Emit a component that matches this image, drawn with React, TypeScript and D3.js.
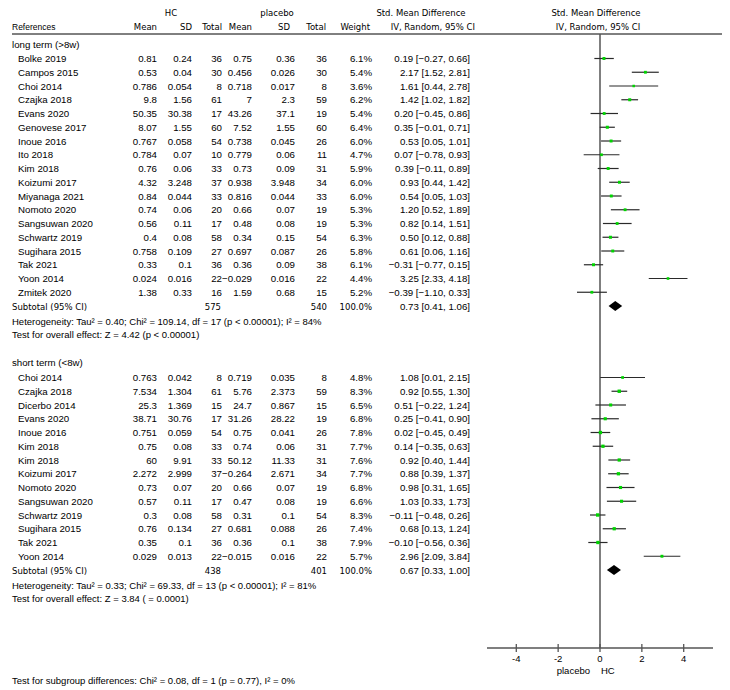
import React, { useEffect } from "react";
import * as d3 from "d3";

type Study = {
  name: string;
  hcMean: number;
  hcSD: number;
  hcN: number;
  plMean: number;
  plSD: number;
  plN: number;
  weight: number;
  smd: number;
  lo: number;
  hi: number;
};

const longTerm: Study[] = [
  { name: "Bolke 2019", hcMean: 0.81, hcSD: 0.24, hcN: 36, plMean: 0.75, plSD: 0.36, plN: 36, weight: 6.1, smd: 0.19, lo: -0.27, hi: 0.66 },
  { name: "Campos 2015", hcMean: 0.53, hcSD: 0.04, hcN: 30, plMean: 0.456, plSD: 0.026, plN: 30, weight: 5.4, smd: 2.17, lo: 1.52, hi: 2.81 },
  { name: "Choi 2014", hcMean: 0.786, hcSD: 0.054, hcN: 8, plMean: 0.718, plSD: 0.017, plN: 8, weight: 3.6, smd: 1.61, lo: 0.44, hi: 2.78 },
  { name: "Czajka 2018", hcMean: 9.8, hcSD: 1.56, hcN: 61, plMean: 7, plSD: 2.3, plN: 59, weight: 6.2, smd: 1.42, lo: 1.02, hi: 1.82 },
  { name: "Evans 2020", hcMean: 50.35, hcSD: 30.38, hcN: 17, plMean: 43.26, plSD: 37.1, plN: 19, weight: 5.4, smd: 0.2, lo: -0.45, hi: 0.86 },
  { name: "Genovese 2017", hcMean: 8.07, hcSD: 1.55, hcN: 60, plMean: 7.52, plSD: 1.55, plN: 60, weight: 6.4, smd: 0.35, lo: -0.01, hi: 0.71 },
  { name: "Inoue 2016", hcMean: 0.767, hcSD: 0.058, hcN: 54, plMean: 0.738, plSD: 0.045, plN: 26, weight: 6.0, smd: 0.53, lo: 0.05, hi: 1.01 },
  { name: "Ito 2018", hcMean: 0.784, hcSD: 0.07, hcN: 10, plMean: 0.779, plSD: 0.06, plN: 11, weight: 4.7, smd: 0.07, lo: -0.78, hi: 0.93 },
  { name: "Kim 2018", hcMean: 0.76, hcSD: 0.06, hcN: 33, plMean: 0.73, plSD: 0.09, plN: 31, weight: 5.9, smd: 0.39, lo: -0.11, hi: 0.89 },
  { name: "Koizumi 2017", hcMean: 4.32, hcSD: 3.248, hcN: 37, plMean: 0.938, plSD: 3.948, plN: 34, weight: 6.0, smd: 0.93, lo: 0.44, hi: 1.42 },
  { name: "Miyanaga 2021", hcMean: 0.84, hcSD: 0.044, hcN: 33, plMean: 0.816, plSD: 0.044, plN: 33, weight: 6.0, smd: 0.54, lo: 0.05, hi: 1.03 },
  { name: "Nomoto 2020", hcMean: 0.74, hcSD: 0.06, hcN: 20, plMean: 0.66, plSD: 0.07, plN: 19, weight: 5.3, smd: 1.2, lo: 0.52, hi: 1.89 },
  { name: "Sangsuwan 2020", hcMean: 0.56, hcSD: 0.11, hcN: 17, plMean: 0.48, plSD: 0.08, plN: 19, weight: 5.3, smd: 0.82, lo: 0.14, hi: 1.51 },
  { name: "Schwartz 2019", hcMean: 0.4, hcSD: 0.08, hcN: 58, plMean: 0.34, plSD: 0.15, plN: 54, weight: 6.3, smd: 0.5, lo: 0.12, hi: 0.88 },
  { name: "Sugihara 2015", hcMean: 0.758, hcSD: 0.109, hcN: 27, plMean: 0.697, plSD: 0.087, plN: 26, weight: 5.8, smd: 0.61, lo: 0.06, hi: 1.16 },
  { name: "Tak 2021", hcMean: 0.33, hcSD: 0.1, hcN: 36, plMean: 0.36, plSD: 0.09, plN: 38, weight: 6.1, smd: -0.31, lo: -0.77, hi: 0.15 },
  { name: "Yoon 2014", hcMean: 0.024, hcSD: 0.016, hcN: 22, plMean: -0.029, plSD: 0.016, plN: 22, weight: 4.4, smd: 3.25, lo: 2.33, hi: 4.18 },
  { name: "Zmitek 2020", hcMean: 1.38, hcSD: 0.33, hcN: 16, plMean: 1.59, plSD: 0.68, plN: 15, weight: 5.2, smd: -0.39, lo: -1.1, hi: 0.33 },
];

const shortTerm: Study[] = [
  { name: "Choi 2014", hcMean: 0.763, hcSD: 0.042, hcN: 8, plMean: 0.719, plSD: 0.035, plN: 8, weight: 4.8, smd: 1.08, lo: 0.01, hi: 2.15 },
  { name: "Czajka 2018", hcMean: 7.534, hcSD: 1.304, hcN: 61, plMean: 5.76, plSD: 2.373, plN: 59, weight: 8.3, smd: 0.92, lo: 0.55, hi: 1.3 },
  { name: "Dicerbo 2014", hcMean: 25.3, hcSD: 1.369, hcN: 15, plMean: 24.7, plSD: 0.867, plN: 15, weight: 6.5, smd: 0.51, lo: -0.22, hi: 1.24 },
  { name: "Evans 2020", hcMean: 38.71, hcSD: 30.76, hcN: 17, plMean: 31.26, plSD: 28.22, plN: 19, weight: 6.8, smd: 0.25, lo: -0.41, hi: 0.9 },
  { name: "Inoue 2016", hcMean: 0.751, hcSD: 0.059, hcN: 54, plMean: 0.75, plSD: 0.041, plN: 26, weight: 7.8, smd: 0.02, lo: -0.45, hi: 0.49 },
  { name: "Kim 2018", hcMean: 0.75, hcSD: 0.08, hcN: 33, plMean: 0.74, plSD: 0.06, plN: 31, weight: 7.7, smd: 0.14, lo: -0.35, hi: 0.63 },
  { name: "Kim 2018", hcMean: 60, hcSD: 9.91, hcN: 33, plMean: 50.12, plSD: 11.33, plN: 31, weight: 7.6, smd: 0.92, lo: 0.4, hi: 1.44 },
  { name: "Koizumi 2017", hcMean: 2.272, hcSD: 2.999, hcN: 37, plMean: -0.264, plSD: 2.671, plN: 34, weight: 7.7, smd: 0.88, lo: 0.39, hi: 1.37 },
  { name: "Nomoto 2020", hcMean: 0.73, hcSD: 0.07, hcN: 20, plMean: 0.66, plSD: 0.07, plN: 19, weight: 6.8, smd: 0.98, lo: 0.31, hi: 1.65 },
  { name: "Sangsuwan 2020", hcMean: 0.57, hcSD: 0.11, hcN: 17, plMean: 0.47, plSD: 0.08, plN: 19, weight: 6.6, smd: 1.03, lo: 0.33, hi: 1.73 },
  { name: "Schwartz 2019", hcMean: 0.3, hcSD: 0.08, hcN: 58, plMean: 0.31, plSD: 0.1, plN: 54, weight: 8.3, smd: -0.11, lo: -0.48, hi: 0.26 },
  { name: "Sugihara 2015", hcMean: 0.76, hcSD: 0.134, hcN: 27, plMean: 0.681, plSD: 0.088, plN: 26, weight: 7.4, smd: 0.68, lo: 0.13, hi: 1.24 },
  { name: "Tak 2021", hcMean: 0.35, hcSD: 0.1, hcN: 36, plMean: 0.36, plSD: 0.1, plN: 38, weight: 7.9, smd: -0.1, lo: -0.56, hi: 0.36 },
  { name: "Yoon 2014", hcMean: 0.029, hcSD: 0.013, hcN: 22, plMean: -0.015, plSD: 0.016, plN: 22, weight: 5.7, smd: 2.96, lo: 2.09, hi: 3.84 },
];

// pooled results per subgroup
const longSubtotal = { hcN: 575, plN: 540, smd: 0.73, lo: 0.41, hi: 1.06 };
const shortSubtotal = { hcN: 438, plN: 401, smd: 0.67, lo: 0.33, hi: 1.0 };

const longHeterogeneity = "Heterogeneity: Tau\u00B2 = 0.40; Chi\u00B2 = 109.14, df = 17 (p < 0.00001); I\u00B2 = 84%";
const longOverall = "Test for overall effect: Z = 4.42 (p < 0.00001)";
const shortHeterogeneity = "Heterogeneity: Tau\u00B2 = 0.33; Chi\u00B2 = 69.33, df = 13 (p < 0.00001); I\u00B2 = 81%";
const shortOverall = "Test for overall effect: Z = 3.84 ( = 0.0001)";
const subgroupTest = "Test for subgroup differences: Chi\u00B2 = 0.08, df = 1 (p = 0.77), I\u00B2 = 0%";

const axisTicks = [-4, -2, 0, 2, 4];

const ARIAL = "'Liberation Sans', Arial, sans-serif";
const VERD = "'DejaVu Sans', Verdana, sans-serif";

const fmt = (v: number) => String(v).replace("-", "\u2212");
const fmt2 = (v: number) => v.toFixed(2).replace("-", "\u2212");
const ciText = (s: number, lo: number, hi: number) => `${fmt2(s)} [${fmt2(lo)}, ${fmt2(hi)}]`;

const App: React.FC = () => {
  useEffect(() => {
    document.body.style.margin = "0";
  }, []);

  const x = d3.scaleLinear().domain([-5.4, 5.4]).range([487, 713]);
  const ROW = 13.75;
  const axisY = 648;

  const col = { hcMean: 157, hcSD: 192, hcN: 222, plMean: 252, plSD: 295, plN: 327, weight: 372, ci: 470 };

  const renderSection = (
    title: string,
    titleY: number,
    firstY: number,
    studies: Study[],
    sub: typeof longSubtotal,
    het: string,
    overall: string
  ) => {
    const subY = firstY + studies.length * ROW;
    const hetY = subY + 15;
    const ovY = hetY + 13.5;
    const wMax = 8.3;
    return (
      <g>
        <text x={12} y={titleY + 3.5} fontFamily={ARIAL} fontSize={9.7}>
          {title}
        </text>
        {studies.map((d, i) => {
          const y = firstY + i * ROW;
          const by = y + 3.5;
          const side = 1.8 + (d.weight / wMax) * 1.6;
          return (
            <g key={title + i} fontFamily={ARIAL} fontSize={9.7}>
              <text x={18} y={by}>{d.name}</text>
              <text x={col.hcMean} y={by} textAnchor="end">{fmt(d.hcMean)}</text>
              <text x={col.hcSD} y={by} textAnchor="end">{fmt(d.hcSD)}</text>
              <text x={col.hcN} y={by} textAnchor="end">{d.hcN}</text>
              <text x={col.plMean} y={by} textAnchor="end">{fmt(d.plMean)}</text>
              <text x={col.plSD} y={by} textAnchor="end">{fmt(d.plSD)}</text>
              <text x={col.plN} y={by} textAnchor="end">{d.plN}</text>
              <text x={col.weight} y={by} textAnchor="end">{d.weight.toFixed(1)}%</text>
              <text x={col.ci} y={by} textAnchor="end">{ciText(d.smd, d.lo, d.hi)}</text>
              <line x1={x(d.lo)} x2={x(d.hi)} y1={y} y2={y} stroke="#2a2a2a" strokeWidth={1.2} />
              <rect x={x(d.smd) - side / 2} y={y - side / 2} width={side} height={side} fill="#00d400" />
            </g>
          );
        })}
        <text x={12} y={subY + 3.5} fontFamily={VERD} fontSize={8.5}>Subtotal (95% CI)</text>
        <text x={col.hcN - 1} y={subY + 3.5} fontFamily={VERD} fontSize={8.5} textAnchor="end">{sub.hcN}</text>
        <text x={col.plN} y={subY + 3.5} fontFamily={VERD} fontSize={8.5} textAnchor="end">{sub.plN}</text>
        <text x={col.weight} y={subY + 3.5} fontFamily={VERD} fontSize={8.5} textAnchor="end">100.0%</text>
        <text x={col.ci} y={subY + 3.5} fontFamily={ARIAL} fontSize={9.7} textAnchor="end">{ciText(sub.smd, sub.lo, sub.hi)}</text>
        <path
          d={`M${x(sub.lo)},${subY} L${x(sub.smd)},${subY - 5} L${x(sub.hi)},${subY} L${x(sub.smd)},${subY + 5} Z`}
          fill="#000"
        />
        <text x={12} y={hetY + 3.5} fontFamily={ARIAL} fontSize={9.5}>{het}</text>
        <text x={12} y={ovY + 3.5} fontFamily={ARIAL} fontSize={9.5}>{overall}</text>
      </g>
    );
  };

  return (
    <svg width={730} height={690} style={{ display: "block", background: "#fff" }}>
      {/* header */}
      <g fontFamily={VERD} fontSize={8.5} fill="#000">
        <text x={171} y={16} textAnchor="middle">HC</text>
        <text x={277} y={16} textAnchor="middle">placebo</text>
        <text x={421} y={16} textAnchor="middle">Std. Mean Difference</text>
        <text x={596} y={16} textAnchor="middle">Std. Mean Difference</text>
        <text x={12} y={30} fontFamily={ARIAL}>References</text>
        <text x={157} y={30} textAnchor="end">Mean</text>
        <text x={192} y={30} textAnchor="end">SD</text>
        <text x={222} y={30} textAnchor="end">Total</text>
        <text x={252} y={30} textAnchor="end">Mean</text>
        <text x={290} y={30} textAnchor="end">SD</text>
        <text x={326} y={30} textAnchor="end">Total</text>
        <text x={370} y={30} textAnchor="end">Weight</text>
        <text x={475} y={30} textAnchor="end">IV, Random, 95% CI</text>
        <text x={598} y={30} textAnchor="middle">IV, Random, 95% CI</text>
      </g>
      <line x1={12} x2={722} y1={34} y2={34} stroke="#000" strokeWidth={1} />

      {/* zero line */}
      <line x1={x(0)} x2={x(0)} y1={34} y2={axisY} stroke="#555" strokeWidth={1.5} />

      {renderSection("long term (>8w)", 44, 58.5, longTerm, longSubtotal, longHeterogeneity, longOverall)}
      {renderSection("short term (<8w)", 362, 377.5, shortTerm, shortSubtotal, shortHeterogeneity, shortOverall)}

      {/* axis */}
      <line x1={x.range()[0]} x2={x.range()[1]} y1={axisY} y2={axisY} stroke="#555" strokeWidth={1.5} />
      {axisTicks.map((t) => (
        <g key={t}>
          <line x1={x(t)} x2={x(t)} y1={axisY - 4} y2={axisY + 4} stroke="#555" strokeWidth={1.3} />
          <text x={x(t)} y={axisY + 14} textAnchor="middle" fontFamily={ARIAL} fontSize={9.5}>
            {t}
          </text>
        </g>
      ))}
      <text x={590} y={axisY + 26} textAnchor="end" fontFamily={ARIAL} fontSize={9.5}>placebo</text>
      <text x={601} y={axisY + 26} fontFamily={ARIAL} fontSize={9.5}>HC</text>

      <text x={12} y={684} fontFamily={ARIAL} fontSize={9.5}>{subgroupTest}</text>
    </svg>
  );
};

export default App;
